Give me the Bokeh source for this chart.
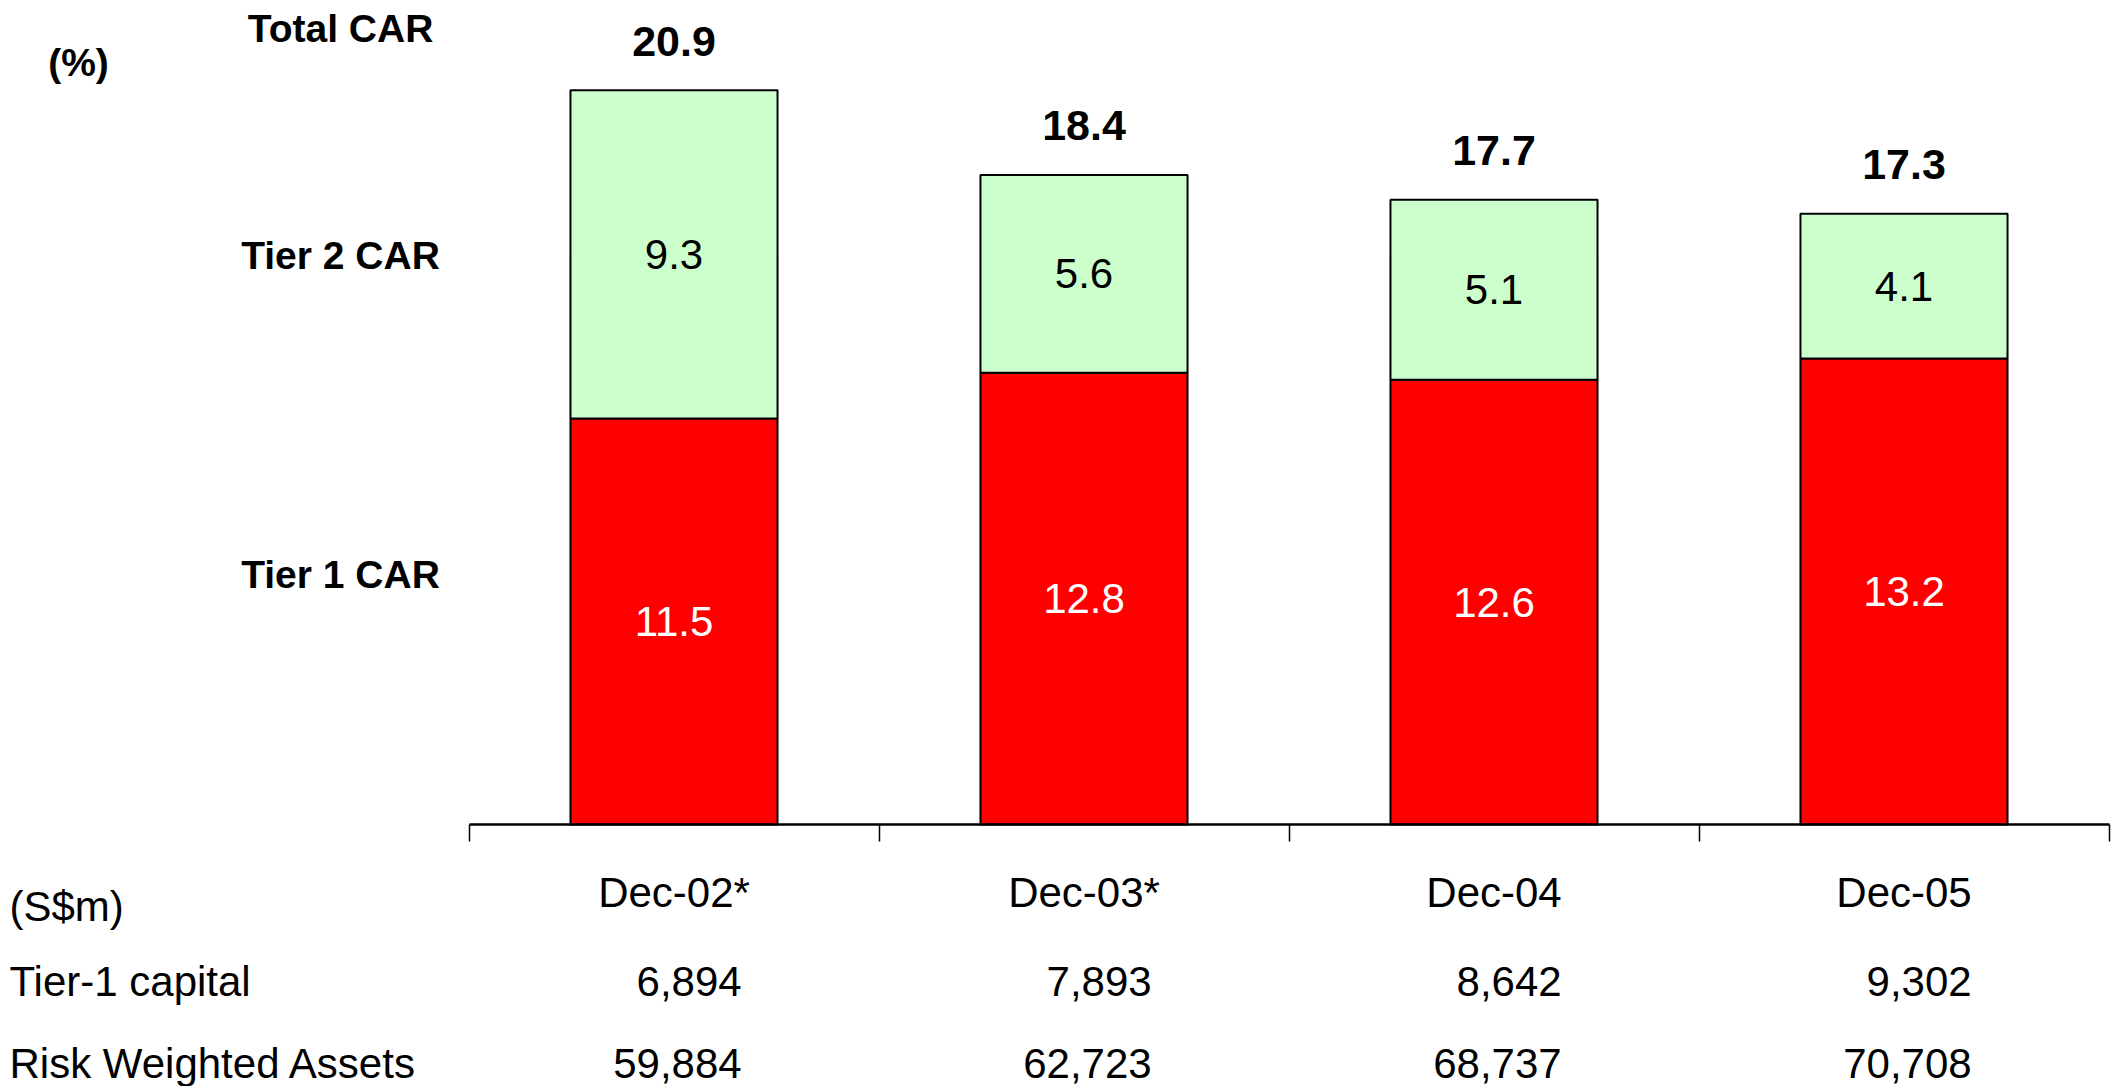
from bokeh.plotting import figure
from bokeh.models import ColumnDataSource, Range1d, LinearAxis, FixedTicker
from bokeh.core.properties import value
from bokeh.embed import file_html
from bokeh.resources import INLINE

# ---- data ----
periods = ["Dec-02*", "Dec-03*", "Dec-04", "Dec-05"]
tier1_car = [11.5, 12.8, 12.6, 13.2]
tier2_car = [9.3, 5.6, 5.1, 4.1]
total_car = [20.9, 18.4, 17.7, 17.3]
tier1_capital = ["6,894", "7,893", "8,642", "9,302"]
rwa = ["59,884", "62,723", "68,737", "70,708"]
row_labels = ["(S$m)", "Tier-1 capital", "Risk Weighted Assets"]
series_labels = ["Total CAR", "Tier 2 CAR", "Tier 1 CAR"]

# ---- layout constants ----
W, H = 2111, 1086
X0_PX = 468.5          # pixel of x = 0
PX_X = 410.0           # pixels per category
Y0_PX = 824.0          # pixel of y = 0 (axis)
PX_Y = 35.3            # pixels per percentage point

def dx(px):
    return (px - X0_PX) / PX_X

def dy(px):
    return (Y0_PX - px) / PX_Y

FONT = value("Liberation Sans")

p = figure(width=W, height=H, output_backend="svg", toolbar_location=None,
           x_range=Range1d(dx(0), dx(W)), y_range=Range1d(dy(H), dy(0)),
           x_axis_type=None, y_axis_type=None, min_border=0)
p.outline_line_color = None
p.xgrid.visible = False
p.ygrid.visible = False
p.background_fill_color = "white"
p.border_fill_color = "white"

xs = [i + 0.5 for i in range(len(periods))]
src = ColumnDataSource(dict(x=xs, t1=tier1_car, t2=tier2_car))
p.vbar_stack(["t1", "t2"], x="x", width=0.505, source=src,
             fill_color=["#FF0000", "#CCFFCC"], line_color="black", line_width=2)

# axis at y = 0 with (unlabelled) ticks at category boundaries
ax = LinearAxis(fixed_location=0, bounds=(0, len(periods)),
                ticker=FixedTicker(ticks=[], minor_ticks=list(range(len(periods) + 1))))
ax.major_tick_line_color = None
ax.minor_tick_in = 0
ax.minor_tick_out = 17
ax.minor_tick_line_width = 1.5
ax.minor_tick_line_color = "black"
ax.axis_line_width = 2.5
p.add_layout(ax, "below")

MID = dict(text_font=FONT, text_baseline="middle")

# inner segment labels
p.text(x=xs, y=[v / 2 for v in tier1_car], text=[f"{v:.1f}" for v in tier1_car],
       text_font_size="42px", text_color="white", text_align="center", **MID)
p.text(x=xs, y=[a + b / 2 for a, b in zip(tier1_car, tier2_car)],
       text=[f"{v:.1f}" for v in tier2_car],
       text_font_size="42px", text_color="black", text_align="center", **MID)

# totals above bars
tops = [a + b for a, b in zip(tier1_car, tier2_car)]
p.text(x=xs, y=[t + 1.39 for t in tops], text=[f"{v:.1f}" for v in total_car],
       text_font_size="43px", text_font_style="bold",
       text_color="black", text_align="center", **MID)

# left series labels
p.text(x=[dx(340)] * 3, y=[dy(28), dy(255), dy(574)], text=series_labels,
       text_font_size="39px", text_font_style="bold",
       text_color="black", text_align="center", **MID)
p.text(x=[dx(78)], y=[dy(62)], text=["(%)"],
       text_font_size="39px", text_font_style="bold",
       text_color="black", text_align="center", **MID)

# category labels
p.text(x=xs, y=[dy(892)] * len(xs), text=periods,
       text_font_size="42px", text_color="black", text_align="center", **MID)

# table rows
p.text(x=[dx(9)] * 3, y=[dy(906), dy(981), dy(1063)], text=row_labels,
       text_font_size="42px", text_color="black", text_align="left", **MID)
p.text(x=[v + 0.165 for v in xs], y=[dy(981)] * len(xs), text=tier1_capital,
       text_font_size="42px", text_color="black", text_align="right", **MID)
p.text(x=[v + 0.165 for v in xs], y=[dy(1063)] * len(xs), text=rwa,
       text_font_size="42px", text_color="black", text_align="right", **MID)

open("out.html", "w").write(file_html(p, INLINE))
